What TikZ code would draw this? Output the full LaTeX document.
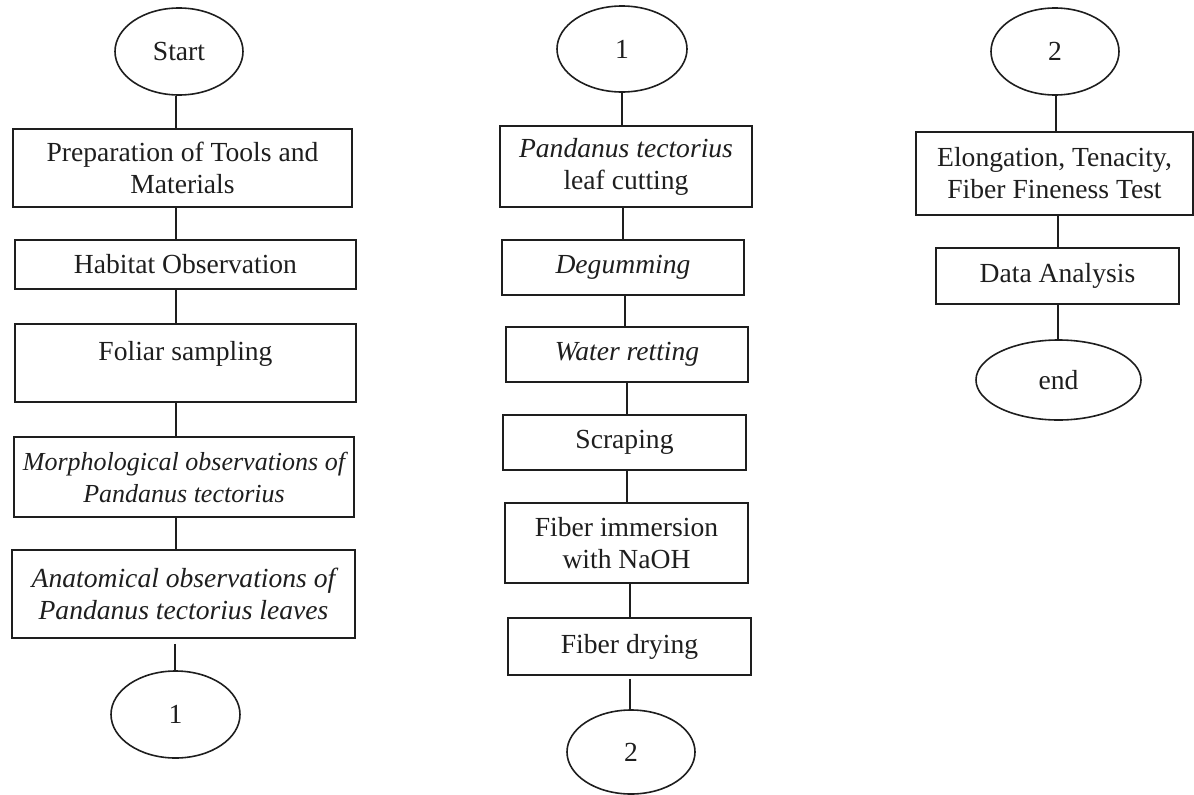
\documentclass[tikz,border=0pt]{standalone}
\usepackage{fontspec}
\setmainfont{Liberation Serif}
\usetikzlibrary{shapes.geometric,calc}
\definecolor{ink}{HTML}{1E1E1E}
\begin{document}
\begin{tikzpicture}[x=1pt,y=-1pt,
  every node/.style={font=\fontsize{27.6}{32}\selectfont, text=ink},
  box/.style={draw=ink, line width=1.6pt, rectangle, inner sep=0pt, align=center},
  term/.style={draw=ink, line width=1.6pt, ellipse, inner sep=0pt},
  link/.style={draw=ink, line width=1.6pt}]
\useasboundingbox (0,0) rectangle (1194,795);

% ---------- column 1 ----------
\node[term, minimum width=128pt, minimum height=87pt] (start) at (179,51.5) {Start};
\node[box, minimum width=339pt, minimum height=78pt] (prep) at (182.5,168) {Preparation of Tools and\\Materials};
\node[box, minimum width=341pt, minimum height=49pt] (hab) at (185.5,264.5) {Habitat Observation};
\node[box, minimum width=341pt, minimum height=78pt] (fol) at (185.5,363) {};
\node (foltext) at (185.5,354) {Foliar sampling};
\node[box, minimum width=340pt, minimum height=80pt, font=\fontsize{26}{32}\selectfont\itshape] (morph) at (184,477) {Morphological observations of\\Pandanus tectorius};
\node[box, minimum width=343pt, minimum height=88pt, font=\fontsize{27.6}{32}\selectfont\itshape] (anat) at (183.5,594) {Anatomical observations of\\Pandanus tectorius leaves};
\node[term, minimum width=129pt, minimum height=87pt] (c1a) at (175.5,714.5) {1};

\coordinate (k1) at (176,0);
\draw[link] (start.south -| k1) -- (prep.north -| k1);
\draw[link] (prep.south -| k1) -- (hab.north -| k1);
\draw[link] (hab.south -| k1) -- (fol.north -| k1);
\draw[link] (fol.south -| k1) -- (morph.north -| k1);
\draw[link] (morph.south -| k1) -- (anat.north -| k1);
\coordinate (k1b) at (175,0);
\draw[link] ($(anat.south -| k1b)+(0,5)$) -- (c1a.north -| k1b);

% ---------- column 2 ----------
\node[term, minimum width=130pt, minimum height=86pt] (c1b) at (622,49) {1};
\node[box, minimum width=252pt, minimum height=81pt] (cut) at (626,166.5) {\textit{Pandanus tectorius}\\leaf cutting};
\node[box, minimum width=242pt, minimum height=55pt, font=\fontsize{27.6}{32}\selectfont\itshape] (deg) at (623,267.5) {Degumming};
\node[box, minimum width=242pt, minimum height=55pt, font=\fontsize{27.6}{32}\selectfont\itshape] (wat) at (627,354.5) {Water retting};
\node[box, minimum width=243pt, minimum height=55pt] (scr) at (624.5,442.5) {Scraping};
\node[box, minimum width=243pt, minimum height=80pt] (imm) at (626.5,543) {Fiber immersion\\with NaOH};
\node[box, minimum width=243pt, minimum height=57pt] (dry) at (629.5,646.5) {Fiber drying};
\node[term, minimum width=128pt, minimum height=84pt] (c2a) at (631,752) {2};

\draw[link] (c1b.south) -- (cut.north -| c1b.south);
\coordinate (k2a) at (623,0);
\draw[link] (cut.south -| k2a) -- (deg.north -| k2a);
\coordinate (k2b) at (625,0);
\draw[link] (deg.south -| k2b) -- (wat.north -| k2b);
\coordinate (k2c) at (627,0);
\draw[link] (wat.south -| k2c) -- (scr.north -| k2c);
\draw[link] (scr.south -| k2c) -- (imm.north -| k2c);
\coordinate (k2d) at (630,0);
\draw[link] (imm.south -| k2d) -- (dry.north -| k2d);
\draw[link] ($(dry.south -| k2d)+(0,3)$) -- (c2a.north -| k2d);

% ---------- column 3 ----------
\node[term, minimum width=128pt, minimum height=87pt] (c2b) at (1055,51.5) {2};
\node[box, minimum width=277pt, minimum height=83pt] (elong) at (1054.5,173.5) {Elongation, Tenacity,\\Fiber Fineness Test};
\node[box, minimum width=243pt, minimum height=56pt] (data) at (1057.5,276) {Data Analysis};
\node[term, minimum width=165pt, minimum height=80pt] (end) at (1058.5,380) {end};

\coordinate (k3a) at (1056,0);
\draw[link] (c2b.south -| k3a) -- (elong.north -| k3a);
\coordinate (k3b) at (1058,0);
\draw[link] (elong.south -| k3b) -- (data.north -| k3b);
\draw[link] (data.south -| k3b) -- (end.north -| k3b);
\end{tikzpicture}
\end{document}
